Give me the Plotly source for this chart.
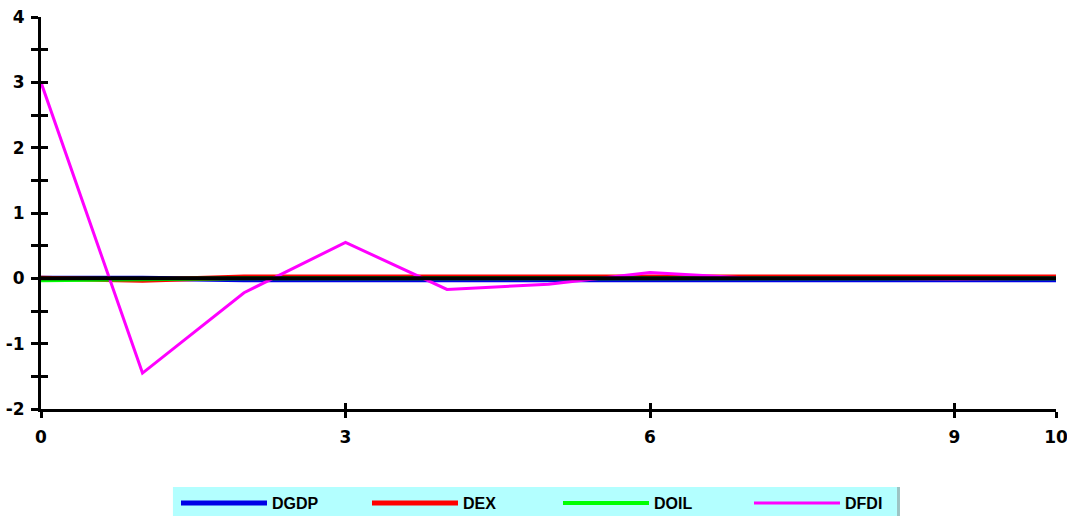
import plotly.graph_objects as go

# Impulse responses over a 10-period horizon
periods = list(range(11))
dgdp = [0.0, 0.0, -0.02, -0.02, -0.02, -0.02, -0.02, -0.02, -0.02, -0.02, -0.02]
dex = [0.0, -0.03, 0.02, 0.02, 0.02, 0.02, 0.02, 0.02, 0.02, 0.02, 0.02]
doil = [-0.03, -0.01, 0.0, 0.0, 0.0, 0.0, 0.0, 0.0, 0.0, 0.0, 0.0]
dfdi = [3.0, -1.45, -0.22, 0.55, -0.17, -0.09, 0.09, 0.0, 0.0, -0.01, 0.0]

x_tickvals = [0, 3, 6, 9, 10]
y_tickvals = [-2, -1.5, -1, -0.5, 0, 0.5, 1, 1.5, 2, 2.5, 3, 3.5, 4]
y_ticktext = ["-2", "", "-1", "", "0", "", "1", "", "2", "", "3", "", "4"]

legend_family = "Arial, Liberation Sans, sans-serif"
tick_family = "DejaVu Sans, Verdana, sans-serif"

fig = go.Figure()
fig.add_trace(go.Scatter(x=periods, y=dgdp, name="DGDP", mode="lines",
                         line=dict(color="#0000E6", width=5)))
fig.add_trace(go.Scatter(x=periods, y=dex, name="DEX", mode="lines",
                         line=dict(color="#FF0000", width=5)))
fig.add_trace(go.Scatter(x=periods, y=doil, name="DOIL", mode="lines",
                         line=dict(color="#00FF00", width=4)))
fig.add_trace(go.Scatter(x=periods, y=dfdi, name="DFDI", mode="lines",
                         line=dict(color="#FF00FF", width=3)))

tick_font = dict(family=tick_family, size=17, color="black", weight="bold")

# Zero reference line drawn over the series
fig.add_shape(type="line", xref="x", yref="y", x0=0, x1=10, y0=0, y1=0,
              line=dict(color="black", width=4), layer="above")

# Legend panel and its right-hand edge
fig.add_shape(type="rect", xref="paper", yref="paper",
              x0=0.130, x1=0.8433, y0=-0.199, y1=-0.30,
              fillcolor="#B3FFFF", line=dict(width=0), layer="below")
fig.add_shape(type="line", xref="paper", yref="paper",
              x0=0.8448, x1=0.8448, y0=-0.199, y1=-0.30,
              line=dict(color="#9CC4C4", width=3), layer="below")

fig.update_layout(
    width=1067, height=516,
    margin=dict(l=41, r=11, t=17, b=107, autoexpand=False),
    plot_bgcolor="rgba(0,0,0,0)", paper_bgcolor="white",
    showlegend=True,
    xaxis=dict(range=[0, 10], tickvals=x_tickvals, ticks="outside",
               ticklen=6, tickwidth=3, tickcolor="black",
               showline=True, linewidth=3, linecolor="black",
               showgrid=False, zeroline=False, tickfont=tick_font,
               ticklabelstandoff=5, ticklabeloverflow="allow",
               automargin=False, fixedrange=True),
    yaxis=dict(range=[-2, 4], tickvals=y_tickvals, ticktext=y_ticktext,
               ticks="outside", ticklen=7, tickwidth=3, tickcolor="black",
               showline=True, linewidth=3, linecolor="black",
               showgrid=False, zeroline=False, tickfont=tick_font,
               ticklabelstandoff=3, ticklabeloverflow="allow",
               automargin=False, fixedrange=True),
    xaxis2=dict(range=[0, 10], overlaying="x", anchor="y2", side="bottom",
                tickvals=x_tickvals, ticks="inside", ticklen=6, tickwidth=3,
                tickcolor="black", showticklabels=False, showline=False,
                showgrid=False, zeroline=False, automargin=False),
    yaxis2=dict(range=[-2, 4], overlaying="y", anchor="x2", side="left",
                tickvals=y_tickvals, ticks="inside", ticklen=7, tickwidth=3,
                tickcolor="black", showticklabels=False, showline=False,
                showgrid=False, zeroline=False, automargin=False),
    legend=dict(orientation="h", x=0.1330, xanchor="left",
                y=-0.24, yanchor="middle",
                bgcolor="rgba(0,0,0,0)", borderwidth=0,
                itemwidth=86, entrywidth=90, entrywidthmode="pixels",
                font=dict(family=legend_family, size=16, color="black",
                          weight="bold"),
                traceorder="normal"),
)

# Invisible trace that carries the second axis pair (for the inner tick marks)
fig.add_trace(go.Scatter(x=[None], y=[None], xaxis="x2", yaxis="y2",
                         showlegend=False, hoverinfo="skip"))

fig.write_html("out.html")
